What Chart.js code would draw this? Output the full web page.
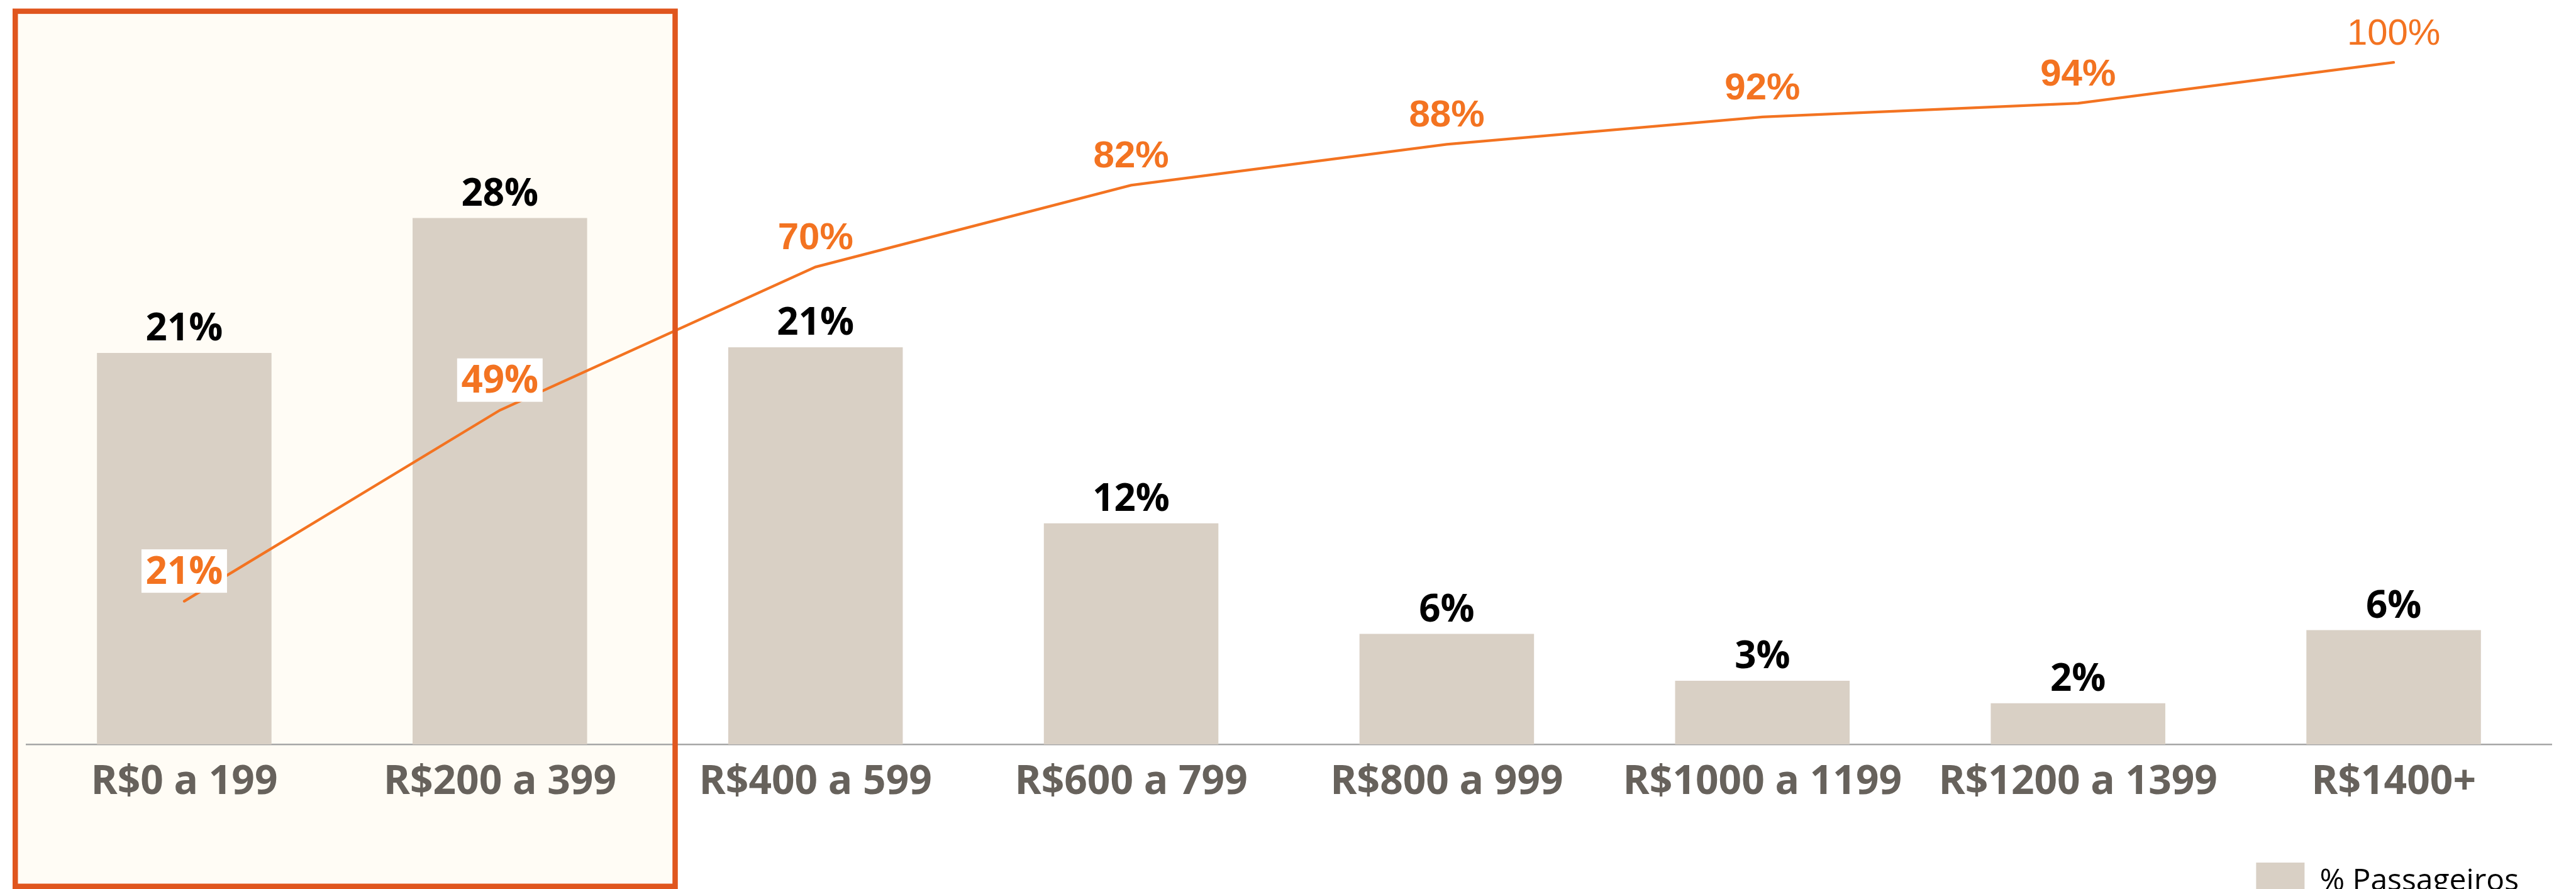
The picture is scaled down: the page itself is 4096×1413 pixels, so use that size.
<!DOCTYPE html>
<html>
<head>
<meta charset="utf-8">
<script src="https://cdn.jsdelivr.net/npm/chart.js@4.4.1/dist/chart.umd.min.js"></script>
<style>
  html, body { margin: 0; padding: 0; background: #fff; overflow: hidden; }
  #wrap { width: 4096px; height: 1441px; position: relative; }
</style>
</head>
<body>
<div id="wrap"><canvas id="passengerchart"></canvas></div>
<script>
const categories = [
  'R$0 a 199',
  'R$200 a 399',
  'R$400 a 599',
  'R$600 a 799',
  'R$800 a 999',
  'R$1000 a 1199',
  'R$1200 a 1399',
  'R$1400+'
]
const passengers = [20.9, 28.1, 21.2, 11.8, 5.9, 3.4, 2.2, 6.1]
const cumulative = [21, 49, 70, 82, 88, 92, 94, 100]
const seriesNames = ['% Passageiros', '% Acumulado']
const highlighted = 2 // first two price bands are framed

const ORANGE = '#F37321'

// per-point look of the cumulative labels
function lineLabelStyle (i) {
  if (i < highlighted) return { font: 'bold 60px "Open Sans"', boxed: true }
  if (i === cumulative.length - 1) return { font: '58px "Liberation Sans"', boxed: false }
  return { font: 'bold 60px "Liberation Sans"', boxed: false }
}

function frameRect (chart) {
  const x = chart.scales.x
  const step = x.getPixelForValue(1) - x.getPixelForValue(0)
  return {
    left: x.left - 22,
    right: x.getPixelForValue(highlighted - 1) + step / 2 + 32,
    top: 13.6,
    bottom: 1413
  }
}

const overlayPlugin = {
  id: 'overlay',
  beforeDraw (chart) {
    const { ctx } = chart
    const r = frameRect(chart)
    ctx.save()
    ctx.fillStyle = '#FFFCF5'
    ctx.fillRect(r.left, r.top, r.right - r.left, r.bottom - r.top)
    ctx.restore()
  },
  afterDatasetsDraw (chart) {
    const { ctx } = chart
    const r = frameRect(chart)
    const bw = 8.5
    ctx.save()
    ctx.strokeStyle = '#E0561E'
    ctx.lineWidth = bw
    ctx.strokeRect(r.left + bw / 2, r.top + bw / 2, r.right - r.left - bw, r.bottom - r.top - bw)

    // bar values
    ctx.textAlign = 'center'
    ctx.textBaseline = 'alphabetic'
    ctx.fillStyle = '#000'
    ctx.font = 'bold 60px "Open Sans"'
    chart.getDatasetMeta(0).data.forEach((bar, i) => {
      ctx.fillText(Math.round(passengers[i]) + '%', bar.x, bar.y - 20)
    })

    // cumulative values
    chart.getDatasetMeta(1).data.forEach((pt, i) => {
      const st = lineLabelStyle(i)
      const text = Math.round(cumulative[i]) + '%'
      const base = pt.y - 28
      ctx.font = st.font
      if (st.boxed) {
        const cy = base - 21.4 + 1.5
        ctx.fillStyle = '#fff'
        ctx.fillRect(pt.x - 68, cy - 34.5, 136, 69)
      }
      ctx.fillStyle = ORANGE
      ctx.fillText(text, pt.x, base)
    })
    ctx.restore()
  }
}

new Chart(document.getElementById('passengerchart'), {
  type: 'bar',
  data: {
    labels: categories,
    datasets: [
      {
        label: seriesNames[0],
        data: passengers,
        backgroundColor: '#D9D0C5',
        borderWidth: 0,
        barPercentage: 0.553,
        categoryPercentage: 1,
        yAxisID: 'y',
        order: 1
      },
      {
        type: 'line',
        label: seriesNames[1],
        data: cumulative,
        borderColor: ORANGE,
        borderWidth: 4.3,
        borderCapStyle: 'round',
        pointRadius: 0,
        tension: 0,
        fill: false,
        yAxisID: 'y2',
        order: 0
      }
    ]
  },
  options: {
    responsive: true,
    maintainAspectRatio: false,
    animation: false,
    layout: { padding: { left: 42, right: 39, top: 0, bottom: 0 } },
    plugins: {
      tooltip: { enabled: false },
      legend: {
        position: 'bottom',
        align: 'end',
        labels: {
          filter: item => item.datasetIndex === 0,
          boxWidth: 77,
          boxHeight: 60,
          padding: 52,
          color: '#000',
          font: { family: 'Open Sans', size: 48 }
        }
      }
    },
    scales: {
      x: {
        grid: { display: false, drawTicks: false },
        border: { display: true, color: '#A6A6A6', width: 2.5 },
        ticks: {
          padding: 22,
          color: '#67625C',
          font: { family: 'Open Sans', size: 64, weight: 'bold' }
        },
        afterFit: axis => { axis.height += 15 }
      },
      y: { display: false, min: 0, max: 39.74 },
      y2: { display: false, min: 0, max: 109.15 }
    }
  },
  plugins: [overlayPlugin]
})
</script>
</body>
</html>
